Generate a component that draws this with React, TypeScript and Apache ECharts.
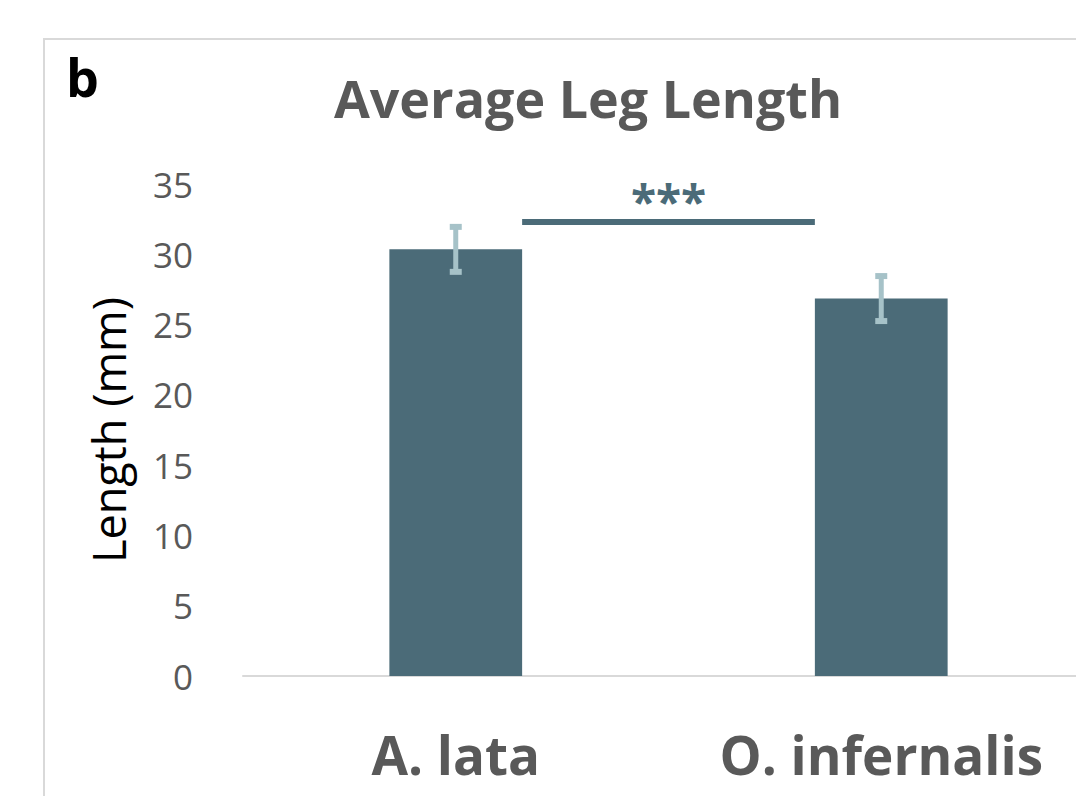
import React, { useEffect, useRef } from "react";
import * as echarts from "echarts";

const categories = ["A. lata", "O. infernalis"];
const meanLength = [30.35, 26.85];
const errLow = [28.75, 25.25];
const errHigh = [31.95, 28.45];
const yTicks = { min: 0, max: 35, interval: 5 };
const significance = [[0, 1, 32.3, "***"]];

const BAR = "#4b6b78";
const ERR = "#a6c2c8";
const GRAY = "#595959";
const FONT = "Open Sans";

export default function App() {
  const ref = useRef<HTMLDivElement>(null);
  useEffect(() => {
    if (!ref.current) return;
    const chart = echarts.init(ref.current, null, { renderer: "svg" });
    const barRatio = 0.312;
    chart.setOption({
      animation: false,
      backgroundColor: "#ffffff",
      title: {
        text: "Average Leg Length",
        left: 583,
        textAlign: "center",
        top: 66,
        textStyle: { fontFamily: FONT, fontSize: 52, fontWeight: "bold", color: GRAY },
      },
      graphic: [
        {
          type: "rect",
          shape: { x: 44, y: 39, width: 1200, height: 900 },
          style: { fill: "none", stroke: "#d9d9d9", lineWidth: 2 },
          silent: true,
        },
        {
          type: "text",
          left: 66,
          top: 50,
          style: { text: "b", fontFamily: FONT, fontSize: 52, fontWeight: "bold", fill: "#000000" },
        },
      ],
      grid: { left: 243, right: 0, top: 184, bottom: 120, containLabel: false },
      xAxis: {
        type: "category",
        data: categories,
        axisLine: { lineStyle: { color: "#d9d9d9", width: 2 } },
        axisTick: { show: false },
        axisLabel: {
          fontFamily: FONT,
          fontSize: 53,
          fontWeight: "bold",
          color: GRAY,
          margin: 52,
        },
      },
      yAxis: {
        type: "value",
        min: yTicks.min,
        max: yTicks.max,
        interval: yTicks.interval,
        splitLine: { show: false },
        axisLine: { show: false },
        axisTick: { show: false },
        axisLabel: { fontFamily: FONT, fontSize: 35, color: GRAY, margin: 50 },
        name: "Length (mm)",
        nameLocation: "middle",
        nameRotate: 90,
        nameGap: 112,
        nameTextStyle: { fontFamily: FONT, fontSize: 45, color: "#000000" },
      },
      series: [
        {
          type: "bar",
          data: meanLength,
          barWidth: (barRatio * 100).toFixed(1) + "%",
          itemStyle: { color: BAR },
          z: 2,
        },
        {
          type: "custom",
          z: 3,
          data: categories.map((_, i) => [i, errLow[i], errHigh[i]]),
          renderItem: (params: any, api: any) => {
            const x = api.value(0);
            const lo = api.coord([x, api.value(1)]);
            const hi = api.coord([x, api.value(2)]);
            const capW = 6;
            const st = { stroke: ERR, lineWidth: 5 };
            return {
              type: "group",
              children: [
                { type: "line", shape: { x1: lo[0], y1: lo[1], x2: hi[0], y2: hi[1] }, style: st },
                { type: "line", shape: { x1: hi[0] - capW, y1: hi[1], x2: hi[0] + capW, y2: hi[1] }, style: { ...st, lineWidth: 6 } },
                { type: "line", shape: { x1: lo[0] - capW, y1: lo[1], x2: lo[0] + capW, y2: lo[1] }, style: { ...st, lineWidth: 6 } },
              ],
            };
          },
        },
        {
          type: "custom",
          z: 3,
          data: significance,
          renderItem: (params: any, api: any) => {
            const a = api.coord([api.value(0), api.value(2)]);
            const b = api.coord([api.value(1), api.value(2)]);
            const band = api.size([1, 0])[0];
            const half = (band * barRatio) / 2;
            const x1 = a[0] + half;
            const x2 = b[0] - half;
            return {
              type: "group",
              children: [
                { type: "line", shape: { x1, y1: a[1], x2, y2: a[1] }, style: { stroke: BAR, lineWidth: 6 } },
                {
                  type: "text",
                  style: {
                    text: significance[params.dataIndex][3],
                    x: (x1 + x2) / 2,
                    y: a[1] + 2,
                    align: "center",
                    verticalAlign: "bottom",
                    fontFamily: FONT,
                    fontSize: 46,
                    fontWeight: "bold",
                    fill: BAR,
                  },
                },
              ],
            };
          },
        },
      ],
    });
    return () => chart.dispose();
  }, []);
  return (
    <div style={{ position: "absolute", left: 0, top: 0, width: 1076, height: 796, overflow: "hidden" }}>
      <div ref={ref} style={{ width: 1094, height: 796 }} />
    </div>
  );
}
